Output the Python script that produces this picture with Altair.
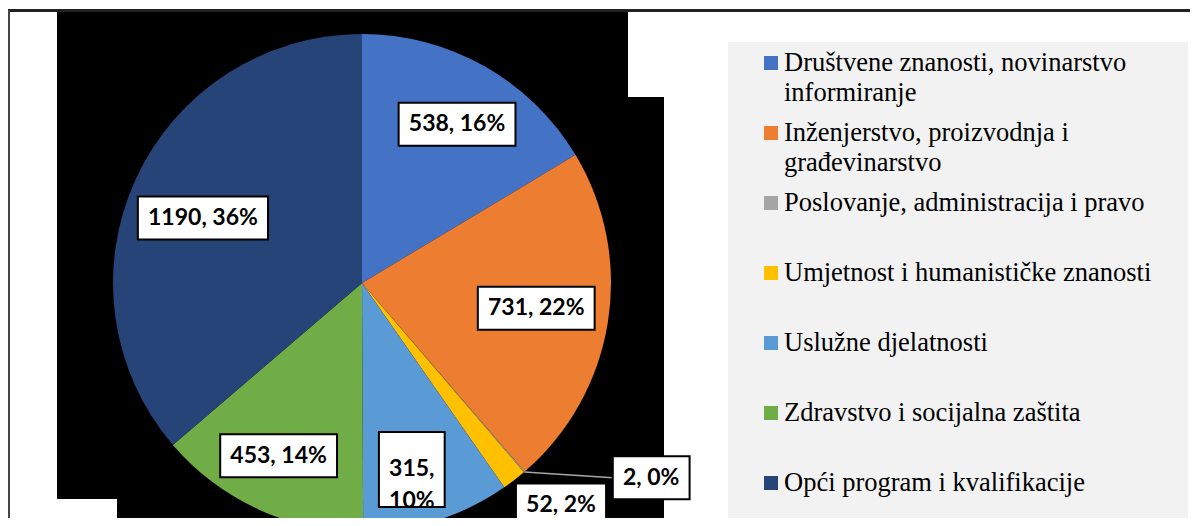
import math
import altair as alt
import pandas as pd

# ---- data ----
categories = [
    "Društvene znanosti, novinarstvo informiranje",
    "Inženjerstvo, proizvodnja i građevinarstvo",
    "Poslovanje, administracija i pravo",
    "Umjetnost i humanističke znanosti",
    "Uslužne djelatnosti",
    "Zdravstvo i socijalna zaštita",
    "Opći program i kvalifikacije",
]
values = [538, 731, 2, 52, 315, 453, 1190]
colors = ["#4472C4", "#ED7D31", "#A5A5A5", "#FFC000", "#5B9BD5", "#70AD47", "#264478"]
legend_lines = [
    ["Društvene znanosti, novinarstvo", "informiranje"],
    ["Inženjerstvo, proizvodnja i", "građevinarstvo"],
    ["Poslovanje, administracija i pravo"],
    ["Umjetnost i humanističke znanosti"],
    ["Uslužne djelatnosti"],
    ["Zdravstvo i socijalna zaštita"],
    ["Opći program i kvalifikacije"],
]
label_wrap = [False, False, False, False, True, False, False]

# ---- layout (pixel space of the canvas) ----
W, H = 1182, 510
CX, CY, R = 354, 275, 249
lab_k = [0.743, 0.707, 1.40, 1.197, 0.775, 0.77, 0.69]
lab_dt = [1.4, -0.9, -15.4, -4.2, 2.6, 1.2, -2.5]
FS_LAB = 23
FS_LEG = 26.5

def est_width(s):
    w = 0.0
    for ch in s:
        if ch.isdigit():
            w += 0.58
        elif ch == ",":
            w += 0.25
        elif ch == " ":
            w += 0.26
        elif ch == "%":
            w += 0.80
        else:
            w += 0.55
    return w * FS_LAB

total = sum(values)
pie_rows, lab_rows, lead_rows = [], [], []
cum = 0
for i, (c, v) in enumerate(zip(categories, values)):
    a0 = cum / total * 360
    a1 = (cum + v) / total * 360
    cum += v
    mid = (a0 + a1) / 2
    pie_rows.append({"idx": i, "cat": c, "value": v})
    pct = round(100 * v / total)
    txt = f"{v},\n{pct}%" if label_wrap[i] else f"{v}, {pct}%"
    lines = txt.split("\n")
    ang = math.radians(mid + lab_dt[i])
    lx = CX + lab_k[i] * R * math.sin(ang)
    ly = CY - lab_k[i] * R * math.cos(ang)
    bw = max(est_width(t) for t in lines) + 20
    bh = 43 + 32 * (len(lines) - 1)
    lab_rows.append({"x": lx, "y": ly, "x1": lx - bw / 2, "x2": lx + bw / 2,
                     "y1": ly - bh / 2, "y2": ly + bh / 2, "text": txt})
    if lab_k[i] > 1.3:
        m = math.radians(mid)
        lead_rows.append({"x": CX + R * math.sin(m), "y": CY - R * math.cos(m),
                          "x2": lx - bw / 2, "y2": ly})

pie_df = pd.DataFrame(pie_rows)
lab_df = pd.DataFrame(lab_rows)
lead_df = pd.DataFrame(lead_rows)

leg_sq, leg_txt = [], []
for i, lines in enumerate(legend_lines):
    y0 = 55 + 70 * i
    leg_sq.append({"x": 763, "y": y0, "cat": categories[i]})
    for j, t in enumerate(lines):
        leg_txt.append({"x": 776, "y": y0 + 30 * j, "text": t})
leg_sq_df = pd.DataFrame(leg_sq)
leg_txt_df = pd.DataFrame(leg_txt)

decor_df = pd.DataFrame([
    {"x1": 49, "x2": 656, "y1": 2, "y2": H, "fill": "#000000", "o": 0},
    {"x1": 620, "x2": 656, "y1": 4, "y2": 89, "fill": "#FFFFFF", "o": 1},
    {"x1": 0, "x2": 109, "y1": 491, "y2": H, "fill": "#FFFFFF", "o": 2},
    {"x1": 720, "x2": 1180, "y1": 34, "y2": H, "fill": "#F2F2F2", "o": 3},
])

xs = alt.Scale(domain=[0, W], nice=False, zero=False)
ys = alt.Scale(domain=[0, H], nice=False, zero=False, reverse=True)
color_scale = alt.Scale(domain=categories, range=colors)

decor = alt.Chart(decor_df).mark_rect().encode(
    x=alt.X("x1:Q", scale=xs, axis=None), x2="x2:Q",
    y=alt.Y("y1:Q", scale=ys, axis=None), y2="y2:Q",
    fill=alt.Fill("fill:N", scale=None),
    order="o:Q",
)

pie = alt.Chart(pie_df).mark_arc(outerRadius=R).encode(
    theta=alt.Theta("value:Q", stack=True),
    order=alt.Order("idx:Q"),
    color=alt.Color("cat:N", scale=color_scale, legend=None),
    x=alt.value(CX), y=alt.value(CY),
)

lead = alt.Chart(lead_df).mark_rule(color="#A6A6A6", strokeWidth=1.5).encode(
    x=alt.X("x:Q", scale=xs, axis=None), x2="x2:Q",
    y=alt.Y("y:Q", scale=ys, axis=None), y2="y2:Q",
)

boxes = alt.Chart(lab_df).mark_rect(fill="white", stroke="black", strokeWidth=2).encode(
    x=alt.X("x1:Q", scale=xs, axis=None), x2="x2:Q",
    y=alt.Y("y1:Q", scale=ys, axis=None), y2="y2:Q",
)

labels = alt.Chart(lab_df).mark_text(
    font="Lato", fontWeight="bold", fontSize=FS_LAB, lineBreak="\n",
    lineHeight=32, baseline="middle", align="center", color="black",
).encode(
    x=alt.X("x:Q", scale=xs, axis=None),
    y=alt.Y("y:Q", scale=ys, axis=None),
    text="text:N",
)

leg_squares = alt.Chart(leg_sq_df).mark_square(size=196, opacity=1).encode(
    x=alt.X("x:Q", scale=xs, axis=None),
    y=alt.Y("y:Q", scale=ys, axis=None),
    color=alt.Color("cat:N", scale=color_scale, legend=None),
)

leg_texts = alt.Chart(leg_txt_df).mark_text(
    font="Liberation Serif", fontSize=FS_LEG, baseline="middle", align="left", color="black",
).encode(
    x=alt.X("x:Q", scale=xs, axis=None),
    y=alt.Y("y:Q", scale=ys, axis=None),
    text="text:N",
)

top_border = alt.Chart(pie_df).mark_rule(color="#222222", strokeWidth=2).encode(
    x=alt.value(0), x2=alt.value(W), y=alt.value(2.5),
)
left_border = alt.Chart(pie_df).mark_rule(color="#444444", strokeWidth=1.5).encode(
    x=alt.value(0.75), y=alt.value(2), y2=alt.value(H),
)

chart = alt.layer(
    decor, pie, lead, boxes, labels, leg_squares, leg_texts, top_border, left_border
).properties(
    width=W, height=H, padding=0, autosize="none", background="white"
).configure_view(stroke=None)

chart.save("out.html", embed_options={"renderer": "svg", "actions": False})
